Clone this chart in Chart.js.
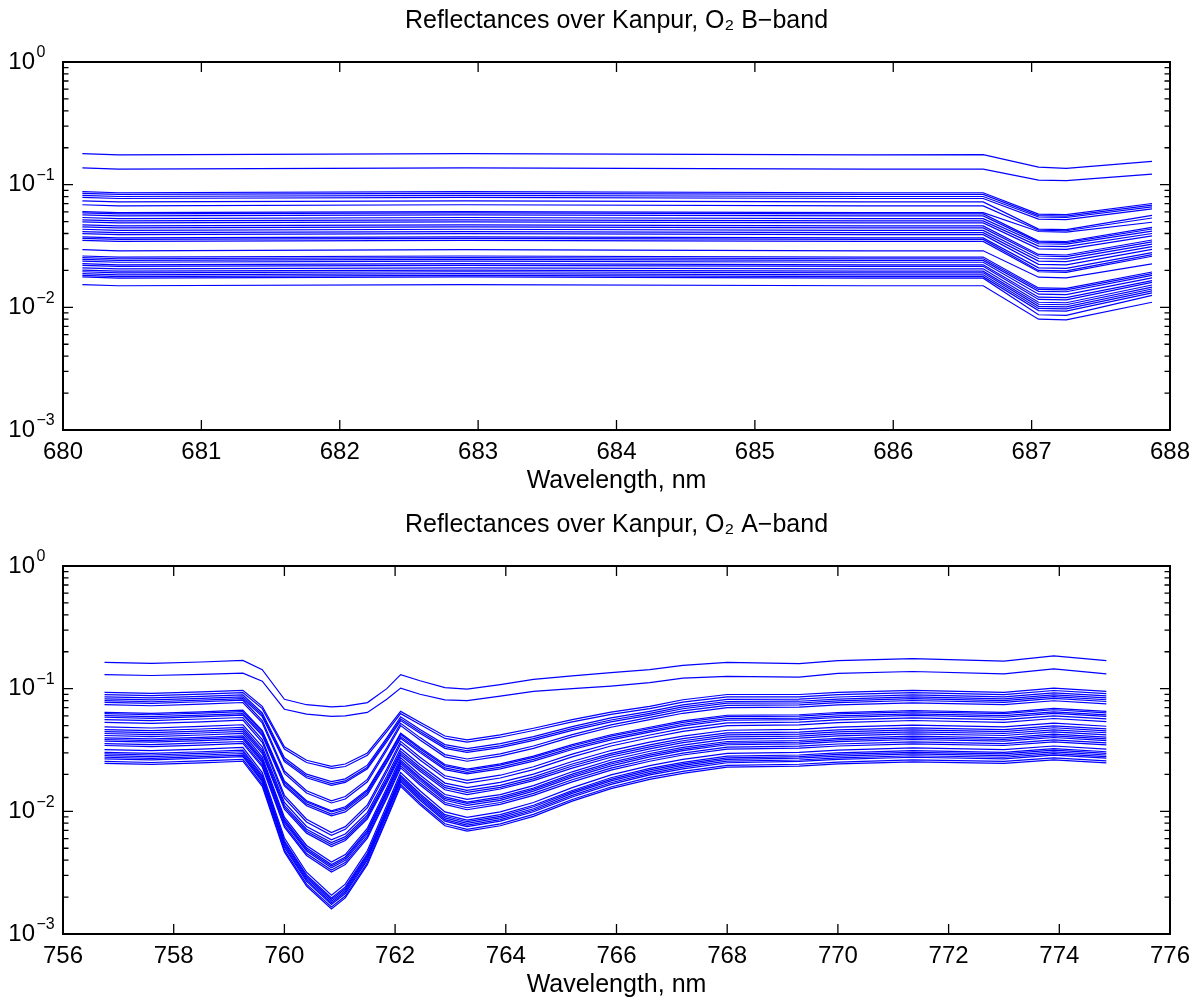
<!DOCTYPE html>
<html><head><meta charset="utf-8">
<script src="https://cdn.jsdelivr.net/npm/chart.js@4.4.1/dist/chart.umd.min.js"></script>
<style>
html,body{margin:0;padding:0;background:#fff;overflow:hidden;width:1202px;height:1003px}
.panel{position:absolute;left:0;width:1202px;height:504px}
</style></head><body>
<div class="panel" style="top:0"><canvas id="cB" width="1202" height="504"></canvas></div>
<div class="panel" style="top:504px"><canvas id="cA" width="1202" height="504"></canvas></div>
<script>
// ---------- O2 B-band (top panel) ----------
const titleB = 'Reflectances over Kanpur, O₂ B−band';
const waveB = [680.14, 680.4, 682.9, 685.8, 686.65, 687.05, 687.25, 687.87];
const xTicksB = [680, 681, 682, 683, 684, 685, 686, 687, 688];
const b01 = [0.179, 0.175, 0.179, 0.175, 0.176, 0.139, 0.136, 0.155];
const b02 = [0.137, 0.134, 0.137, 0.134, 0.134, 0.109, 0.108, 0.122];
const b03 = [0.0877, 0.0859, 0.0877, 0.0859, 0.0859, 0.0575, 0.0569, 0.0702];
const b04 = [0.0849, 0.0832, 0.0849, 0.0832, 0.0832, 0.0560, 0.0554, 0.0682];
const b05 = [0.0817, 0.0801, 0.0817, 0.0801, 0.0801, 0.0545, 0.0540, 0.0659];
const b06 = [0.0787, 0.0771, 0.0787, 0.0771, 0.0771, 0.0524, 0.0519, 0.0634];
const b07 = [0.0739, 0.0724, 0.0739, 0.0724, 0.0724, 0.0434, 0.0430, 0.0562];
const b08 = [0.0686, 0.0672, 0.0686, 0.0672, 0.0672, 0.0425, 0.0421, 0.0535];
const b09 = [0.0604, 0.0592, 0.0604, 0.0592, 0.0592, 0.0415, 0.0411, 0.0494];
const b10 = [0.0589, 0.0577, 0.0589, 0.0577, 0.0577, 0.0347, 0.0344, 0.0449];
const b11 = [0.0567, 0.0556, 0.0567, 0.0556, 0.0556, 0.0340, 0.0337, 0.0435];
const b12 = [0.0540, 0.0529, 0.0540, 0.0529, 0.0529, 0.0330, 0.0327, 0.0418];
const b13 = [0.0516, 0.0506, 0.0516, 0.0506, 0.0506, 0.0316, 0.0313, 0.0400];
const b14 = [0.0498, 0.0488, 0.0498, 0.0488, 0.0488, 0.0300, 0.0297, 0.0383];
const b15 = [0.0470, 0.0461, 0.0470, 0.0461, 0.0461, 0.0270, 0.0267, 0.0354];
const b16 = [0.0453, 0.0444, 0.0453, 0.0444, 0.0444, 0.0262, 0.0259, 0.0342];
const b17 = [0.0433, 0.0424, 0.0433, 0.0424, 0.0424, 0.0250, 0.0248, 0.0327];
const b18 = [0.0414, 0.0406, 0.0414, 0.0406, 0.0406, 0.0238, 0.0236, 0.0313];
const b19 = [0.0399, 0.0391, 0.0399, 0.0391, 0.0391, 0.0224, 0.0222, 0.0297];
const b20 = [0.0375, 0.0368, 0.0375, 0.0368, 0.0368, 0.0210, 0.0208, 0.0279];
const b21 = [0.0365, 0.0358, 0.0365, 0.0358, 0.0358, 0.0200, 0.0198, 0.0269];
const b22 = [0.0352, 0.0345, 0.0352, 0.0345, 0.0345, 0.0195, 0.0193, 0.0261];
const b23 = [0.0295, 0.0289, 0.0295, 0.0289, 0.0289, 0.0176, 0.0174, 0.0226];
const b24 = [0.0262, 0.0257, 0.0262, 0.0257, 0.0257, 0.0144, 0.0143, 0.0194];
const b25 = [0.0254, 0.0249, 0.0254, 0.0249, 0.0249, 0.0140, 0.0139, 0.0188];
const b26 = [0.0246, 0.0241, 0.0246, 0.0241, 0.0241, 0.0135, 0.0134, 0.0182];
const b27 = [0.0238, 0.0233, 0.0238, 0.0233, 0.0233, 0.0128, 0.0127, 0.0174];
const b28 = [0.0227, 0.0222, 0.0227, 0.0222, 0.0222, 0.0121, 0.0120, 0.0165];
const b29 = [0.0220, 0.0216, 0.0220, 0.0216, 0.0216, 0.0116, 0.0115, 0.0160];
const b30 = [0.0210, 0.0206, 0.0210, 0.0206, 0.0206, 0.0110, 0.0109, 0.0152];
const b31 = [0.0201, 0.0197, 0.0201, 0.0197, 0.0197, 0.0106, 0.0105, 0.0146];
const b32 = [0.0195, 0.0191, 0.0195, 0.0191, 0.0191, 0.0102, 0.0101, 0.0141];
const b33 = [0.0188, 0.0184, 0.0188, 0.0184, 0.0184, 0.0098, 0.0097, 0.0136];
const b34 = [0.0182, 0.0178, 0.0182, 0.0178, 0.0178, 0.0094, 0.0093, 0.0131];
const b35 = [0.0177, 0.0173, 0.0177, 0.0173, 0.0173, 0.0087, 0.0086, 0.0125];
const b36 = [0.0153, 0.0150, 0.0153, 0.0150, 0.0150, 0.0080, 0.0079, 0.0110];
const seriesB = [b01,b02,b03,b04,b05,b06,b07,b08,b09,b10,b11,b12,b13,b14,b15,b16,b17,b18,
  b19,b20,b21,b22,b23,b24,b25,b26,b27,b28,b29,b30,b31,b32,b33,b34,b35,b36];

// ---------- O2 A-band (bottom panel) ----------
const titleA = 'Reflectances over Kanpur, O₂ A−band';
const waveA = [756.75, 757.6, 758.5, 759.25, 759.6, 760.0, 760.4, 760.85, 761.1, 761.5, 761.85, 762.1,
  762.45, 762.9, 763.3, 763.9, 764.5, 765.2, 765.9, 766.6, 767.2, 768.0, 769.3, 770.0, 771.35, 773.0, 773.9, 774.85];
const xTicksA = [756, 758, 760, 762, 764, 766, 768, 770, 772, 774, 776];
const a01 = [0.164,0.161,0.165,0.170,0.143,0.082,0.074,0.071,0.072,0.077,0.100,0.130,0.116,0.102,0.099,0.108,0.119,0.127,0.135,0.143,0.155,0.164,0.160,0.169,0.176,0.168,0.185,0.169];
const a02 = [0.130,0.128,0.131,0.134,0.115,0.068,0.062,0.0595,0.060,0.064,0.082,0.101,0.090,0.081,0.080,0.087,0.095,0.100,0.105,0.112,0.122,0.126,0.124,0.133,0.138,0.132,0.145,0.132];
const a03 = [0.0933,0.0914,0.0942,0.0970,0.0718,0.0336,0.0261,0.0233,0.0243,0.0299,0.0467,0.0653,0.0532,0.0411,0.0383,0.0420,0.0476,0.0560,0.0644,0.0718,0.0812,0.0896,0.0896,0.0933,0.0970,0.0933,0.101,0.0952];
const a04 = [0.0894,0.0876,0.0903,0.0930,0.0688,0.0322,0.0250,0.0224,0.0232,0.0286,0.0447,0.0626,0.0510,0.0393,0.0367,0.0402,0.0456,0.0536,0.0617,0.0688,0.0778,0.0858,0.0858,0.0894,0.0930,0.0894,0.0966,0.0912];
const a05 = [0.0857,0.0840,0.0866,0.0891,0.0634,0.0273,0.0201,0.0175,0.0184,0.0238,0.0397,0.0590,0.0465,0.0350,0.0324,0.0356,0.0407,0.0491,0.0577,0.0654,0.0737,0.0817,0.0821,0.0855,0.0890,0.0857,0.0924,0.0872];
const a06 = [0.0825,0.0809,0.0833,0.0858,0.0611,0.0262,0.0194,0.0168,0.0177,0.0229,0.0382,0.0568,0.0448,0.0337,0.0312,0.0342,0.0392,0.0473,0.0555,0.0629,0.0710,0.0786,0.0790,0.0823,0.0856,0.0825,0.0889,0.0840];
const a07 = [0.0798,0.0782,0.0806,0.0830,0.0591,0.0254,0.0188,0.0163,0.0172,0.0222,0.0369,0.0549,0.0433,0.0326,0.0302,0.0331,0.0379,0.0457,0.0537,0.0609,0.0686,0.0761,0.0764,0.0796,0.0828,0.0798,0.0860,0.0812];
const a08 = [0.0774,0.0759,0.0782,0.0805,0.0550,0.0213,0.0147,0.0122,0.0132,0.0182,0.0329,0.0522,0.0399,0.0290,0.0267,0.0294,0.0341,0.0422,0.0507,0.0584,0.0658,0.0731,0.0739,0.0770,0.0801,0.0774,0.0832,0.0786];
const a09 = [0.0741,0.0726,0.0748,0.0771,0.0526,0.0204,0.0141,0.0117,0.0126,0.0174,0.0315,0.0500,0.0382,0.0278,0.0256,0.0282,0.0326,0.0404,0.0485,0.0559,0.0630,0.0700,0.0708,0.0737,0.0767,0.0741,0.0797,0.0752];
const a10 = [0.0642,0.0629,0.0648,0.0668,0.0456,0.0177,0.0122,0.0101,0.0109,0.0151,0.0273,0.0433,0.0331,0.0241,0.0221,0.0244,0.0282,0.0350,0.0421,0.0485,0.0546,0.0607,0.0613,0.0639,0.0664,0.0642,0.0690,0.0652];
const a11 = [0.0626,0.0613,0.0632,0.0651,0.0444,0.0172,0.0119,0.0099,0.0106,0.0147,0.0266,0.0423,0.0322,0.0235,0.0216,0.0238,0.0275,0.0341,0.0410,0.0473,0.0532,0.0592,0.0598,0.0623,0.0648,0.0626,0.0673,0.0635];
const a12 = [0.0603,0.0591,0.0609,0.0627,0.0428,0.0166,0.0115,0.0095,0.0103,0.0142,0.0256,0.0407,0.0311,0.0226,0.0208,0.0229,0.0265,0.0329,0.0395,0.0455,0.0513,0.0570,0.0576,0.0600,0.0624,0.0603,0.0648,0.0612];
const a13 = [0.0585,0.0573,0.0591,0.0608,0.0415,0.0161,0.0111,0.0092,0.0099,0.0137,0.0249,0.0395,0.0301,0.0219,0.0202,0.0222,0.0257,0.0319,0.0383,0.0442,0.0497,0.0553,0.0559,0.0582,0.0605,0.0585,0.0629,0.0594];
const a14 = [0.0560,0.0549,0.0566,0.0582,0.0384,0.0135,0.00862,0.00672,0.00750,0.0113,0.0221,0.0372,0.0276,0.0195,0.0179,0.0197,0.0231,0.0293,0.0359,0.0419,0.0472,0.0526,0.0534,0.0556,0.0578,0.0560,0.0601,0.0567];
const a15 = [0.0532,0.0521,0.0537,0.0553,0.0365,0.0128,0.00819,0.00638,0.00713,0.0107,0.0210,0.0354,0.0262,0.0186,0.0170,0.0187,0.0219,0.0278,0.0341,0.0398,0.0448,0.0500,0.0507,0.0528,0.0550,0.0532,0.0571,0.0539];
const a16 = [0.0488,0.0478,0.0493,0.0508,0.0335,0.0118,0.00752,0.00586,0.00654,0.00981,0.0193,0.0325,0.0241,0.0170,0.0156,0.0172,0.0201,0.0255,0.0313,0.0366,0.0411,0.0458,0.0465,0.0485,0.0504,0.0488,0.0524,0.0494];
const a17 = [0.0464,0.0455,0.0469,0.0483,0.0318,0.0112,0.00715,0.00557,0.00622,0.00933,0.0183,0.0309,0.0229,0.0162,0.0148,0.0163,0.0191,0.0243,0.0297,0.0348,0.0391,0.0436,0.0442,0.0461,0.0479,0.0464,0.0498,0.0470];
const a18 = [0.0447,0.0438,0.0451,0.0465,0.0307,0.0108,0.00688,0.00536,0.00599,0.00898,0.0177,0.0297,0.0220,0.0156,0.0143,0.0157,0.0184,0.0234,0.0287,0.0335,0.0376,0.0420,0.0426,0.0444,0.0462,0.0447,0.0480,0.0453];
const a19 = [0.0431,0.0422,0.0435,0.0448,0.0296,0.0104,0.00664,0.00517,0.00578,0.00866,0.0170,0.0287,0.0212,0.0150,0.0137,0.0152,0.0178,0.0225,0.0276,0.0323,0.0363,0.0405,0.0411,0.0428,0.0445,0.0431,0.0462,0.0437];
const a20 = [0.0415,0.0407,0.0419,0.0432,0.0277,0.00896,0.00527,0.00386,0.00444,0.00730,0.0155,0.0273,0.0198,0.0137,0.0125,0.0137,0.0162,0.0210,0.0262,0.0309,0.0347,0.0388,0.0395,0.0412,0.0428,0.0415,0.0445,0.0420];
const a21 = [0.0397,0.0389,0.0401,0.0413,0.0265,0.00858,0.00504,0.00369,0.00425,0.00699,0.0148,0.0261,0.0189,0.0131,0.0119,0.0131,0.0155,0.0201,0.0251,0.0296,0.0332,0.0371,0.0378,0.0394,0.0410,0.0397,0.0426,0.0402];
const a22 = [0.0385,0.0377,0.0389,0.0400,0.0257,0.00832,0.00489,0.00358,0.00412,0.00678,0.0144,0.0253,0.0184,0.0127,0.0116,0.0127,0.0151,0.0195,0.0243,0.0287,0.0322,0.0360,0.0367,0.0382,0.0397,0.0385,0.0413,0.0390];
const a23 = [0.0373,0.0366,0.0377,0.0388,0.0249,0.00806,0.00474,0.00347,0.00399,0.00656,0.0139,0.0245,0.0178,0.0123,0.0112,0.0123,0.0146,0.0189,0.0235,0.0278,0.0312,0.0349,0.0355,0.0370,0.0385,0.0373,0.0400,0.0377];
const a24 = [0.0357,0.0350,0.0361,0.0371,0.0238,0.00771,0.00453,0.00332,0.00382,0.00628,0.0133,0.0235,0.0170,0.0118,0.0107,0.0118,0.0140,0.0181,0.0225,0.0266,0.0298,0.0334,0.0340,0.0354,0.0368,0.0357,0.0383,0.0361];
const a25 = [0.0344,0.0337,0.0347,0.0358,0.0230,0.00743,0.00437,0.00320,0.00368,0.00605,0.0128,0.0226,0.0164,0.0114,0.0103,0.0114,0.0135,0.0174,0.0217,0.0256,0.0288,0.0322,0.0327,0.0341,0.0355,0.0344,0.0369,0.0348];
const a26 = [0.0319,0.0313,0.0322,0.0332,0.0207,0.00606,0.00319,0.00207,0.00255,0.00479,0.0112,0.0207,0.0147,0.00989,0.00893,0.00989,0.0118,0.0156,0.0198,0.0236,0.0265,0.0297,0.0303,0.0316,0.0329,0.0319,0.0341,0.0322];
const a27 = [0.0303,0.0297,0.0306,0.0315,0.0197,0.00576,0.00303,0.00197,0.00242,0.00455,0.0106,0.0197,0.0139,0.00939,0.00848,0.00939,0.0112,0.0148,0.0188,0.0224,0.0251,0.0282,0.0288,0.0300,0.0312,0.0303,0.0324,0.0306];
const a28 = [0.0294,0.0288,0.0297,0.0306,0.0191,0.00559,0.00294,0.00191,0.00235,0.00441,0.0103,0.0191,0.0135,0.00911,0.00823,0.00911,0.0109,0.0144,0.0182,0.0218,0.0244,0.0273,0.0279,0.0291,0.0303,0.0294,0.0315,0.0297];
const a29 = [0.0285,0.0279,0.0288,0.0296,0.0185,0.00542,0.00285,0.00185,0.00228,0.00428,0.00998,0.0185,0.0131,0.00884,0.00798,0.00884,0.0105,0.0140,0.0177,0.0211,0.0237,0.0265,0.0271,0.0282,0.0294,0.0285,0.0305,0.0288];
const a30 = [0.0276,0.0270,0.0279,0.0287,0.0179,0.00524,0.00276,0.00179,0.00221,0.00414,0.00966,0.0179,0.0127,0.00856,0.00773,0.00856,0.0102,0.0135,0.0171,0.0204,0.0229,0.0257,0.0262,0.0273,0.0284,0.0276,0.0295,0.0279];
const a31 = [0.0268,0.0263,0.0271,0.0279,0.0174,0.00509,0.00268,0.00174,0.00214,0.00402,0.00938,0.0174,0.0123,0.00831,0.00750,0.00831,0.00992,0.0131,0.0166,0.0198,0.0222,0.0249,0.0255,0.0265,0.0276,0.0268,0.0287,0.0271];
const a32 = [0.0255,0.0250,0.0258,0.0265,0.0166,0.00485,0.00255,0.00166,0.00204,0.00383,0.00893,0.0166,0.0117,0.00791,0.00714,0.00791,0.00944,0.0125,0.0158,0.0189,0.0212,0.0237,0.0242,0.0252,0.0263,0.0255,0.0273,0.0258];
const a33 = [0.0246,0.0241,0.0248,0.0256,0.0160,0.00467,0.00246,0.00160,0.00197,0.00369,0.00861,0.0160,0.0113,0.00763,0.00689,0.00763,0.00910,0.0121,0.0153,0.0182,0.0204,0.0229,0.0234,0.0244,0.0253,0.0246,0.0263,0.0248];
const seriesA = [a01,a02,a03,a04,a05,a06,a07,a08,a09,a10,a11,a12,a13,a14,a15,a16,a17,a18,
  a19,a20,a21,a22,a23,a24,a25,a26,a27,a28,a29,a30,a31,a32,a33];

// ---------- shared axis settings ----------
const xLabel = 'Wavelength, nm';
const yTickValues = [0.001, 0.01, 0.1, 1];
const yTickBase = '10';
const yTickExp = ['−3', '−2', '−1', '0'];
const minorMult = [2, 3, 4, 5, 6, 7, 8, 9];

const FONT = '"Liberation Sans", Arial, Helvetica, sans-serif';
Chart.defaults.font.family = FONT;
Chart.defaults.color = '#000';

const boxTicks = {
  id: 'boxTicks',
  afterDatasetsDraw(chart) {
    const {ctx, chartArea: a, scales: {x, y}} = chart;
    ctx.save();
    ctx.strokeStyle = '#000';
    ctx.lineWidth = 1.3;
    ctx.beginPath();
    x.ticks.forEach(t => {
      const px = x.getPixelForValue(t.value);
      ctx.moveTo(px, a.bottom); ctx.lineTo(px, a.bottom - 10);
      ctx.moveTo(px, a.top); ctx.lineTo(px, a.top + 10);
    });
    yTickValues.forEach(v => {
      const py = y.getPixelForValue(v);
      ctx.moveTo(a.left, py); ctx.lineTo(a.left + 10, py);
      ctx.moveTo(a.right, py); ctx.lineTo(a.right - 10, py);
    });
    yTickValues.slice(0, 3).forEach(d => {
      minorMult.forEach(m => {
        const py = y.getPixelForValue(d * m);
        ctx.moveTo(a.left, py); ctx.lineTo(a.left + 5.5, py);
        ctx.moveTo(a.right, py); ctx.lineTo(a.right - 5.5, py);
      });
    });
    ctx.stroke();
    ctx.lineWidth = 2;
    ctx.strokeRect(a.left, a.top, a.right - a.left, a.bottom - a.top);
    // exponents of the decade labels (the "10" comes from the scale's own tick labels)
    ctx.fillStyle = '#000';
    ctx.font = '16px ' + FONT;
    ctx.textAlign = 'left';
    ctx.textBaseline = 'middle';
    yTickValues.forEach((v, i) => {
      const py = y.getPixelForValue(v);
      ctx.fillText(yTickExp[i], a.left - 26.5, py - 9);
    });
    ctx.restore();
  }
};

function makeChart(id, title, wave, series, xTicks) {
  return new Chart(document.getElementById(id), {
    type: 'line',
    data: {
      datasets: series.map(s => ({
        data: wave.map((w, i) => ({x: w, y: s[i]})),
        borderColor: '#0000ff', borderWidth: 1.2, pointRadius: 0, tension: 0, fill: false
      }))
    },
    options: {
      responsive: false, animation: false, devicePixelRatio: 1,
      layout: {padding: {left: 0, right: 32, top: 0, bottom: 0}},
      plugins: {
        legend: {display: false}, tooltip: {enabled: false},
        title: {display: true, text: title, fullSize: false, color: '#000',
          font: {family: FONT, size: 25, weight: 'normal', lineHeight: 1.2},
          padding: {top: 6, bottom: 26}}
      },
      scales: {
        x: {
          type: 'linear', position: 'bottom',
          min: xTicks[0], max: xTicks[xTicks.length - 1],
          afterBuildTicks: s => { s.ticks = xTicks.map(v => ({value: v})); },
          ticks: {color: '#000', font: {family: FONT, size: 24}, padding: 8, maxRotation: 0, autoSkip: false,
            callback: v => String(v)},
          grid: {display: false, drawTicks: false}, border: {display: false},
          title: {display: true, text: xLabel, color: '#000',
            font: {family: FONT, size: 25, lineHeight: 1.2}, padding: {top: 0, bottom: 8}},
          afterFit: s => { s.height = 74; }
        },
        y: {
          type: 'logarithmic', min: 0.001, max: 1,
          afterBuildTicks: s => { s.ticks = yTickValues.map(v => ({value: v})); },
          ticks: {color: '#000', font: {family: FONT, size: 24}, padding: 28, autoSkip: false,
            callback: () => yTickBase},
          grid: {display: false, drawTicks: false}, border: {display: false},
          afterFit: s => { s.width = 63; }
        }
      }
    },
    plugins: [boxTicks]
  });
}

makeChart('cB', titleB, waveB, seriesB, xTicksB);
makeChart('cA', titleA, waveA, seriesA, xTicksA);
</script>
</body></html>
